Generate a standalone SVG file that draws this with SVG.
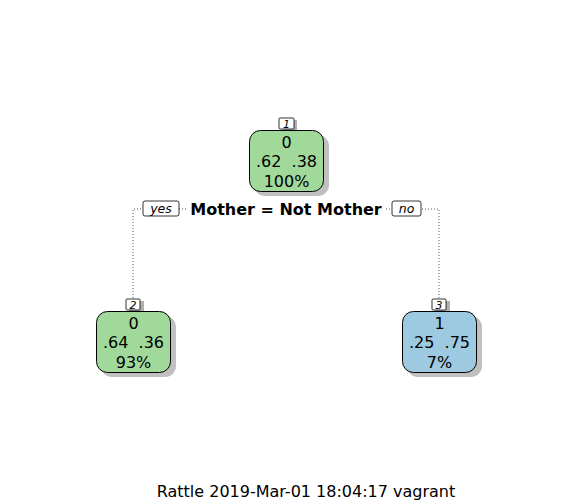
<svg xmlns="http://www.w3.org/2000/svg" width="573" height="503" viewBox="0 0 573 503">
<style>
text{font-family:"DejaVu Sans",sans-serif;fill:#000}
.nt{font-size:16px;text-anchor:middle}
.lab{font-size:11px;font-style:italic;text-anchor:middle}
.sh{fill:#c0c0c0}
.box{stroke:#000;stroke-width:1}
.g{fill:#a1d99b}
.b{fill:#9ecae1}
.tag{fill:#fff;stroke:#000;stroke-width:0.8}
.tsh{fill:#b0b0b0}
.con{fill:none;stroke:#555;stroke-width:1;stroke-dasharray:1,2}
</style>
<rect width="573" height="503" fill="#fff"/>
<g id="connectors">
<path class="con" d="M133,298 V209 H439 V298"/>
</g>
<g id="split">
<rect x="143" y="201" width="36" height="15" rx="2" fill="#fff" stroke="#000" stroke-width="0.8"/>
<text x="161" y="213" class="lab" style="font-size:12.5px">yes</text>
<rect x="188" y="200" width="196" height="18" fill="#fff"/>
<text x="286" y="215" style="font-size:16px;font-weight:bold;text-anchor:middle">Mother = Not Mother</text>
<rect x="392" y="201" width="29" height="15" rx="2" fill="#fff" stroke="#000" stroke-width="0.8"/>
<text x="406.5" y="213" class="lab" style="font-size:12.5px">no</text>
</g>
<g id="node1">
<rect x="282" y="120" width="15" height="11" class="tsh"/>
<rect x="279" y="118" width="15" height="11" rx="1" class="tag"/>
<text x="286.5" y="127.5" class="lab">1</text>
<rect x="254" y="135" width="75" height="61" rx="11" class="sh"/>
<rect x="249.5" y="130.5" width="74" height="61" rx="11" class="box g"/>
<text x="286.5" y="148" class="nt">0</text>
<text x="286.5" y="167" class="nt" xml:space="preserve">.62  .38</text>
<text x="286.5" y="187" class="nt">100%</text>
</g>
<g id="node2">
<rect x="129" y="301" width="15" height="11" class="tsh"/>
<rect x="126" y="299" width="14" height="11" rx="1" class="tag"/>
<text x="133" y="308.5" class="lab">2</text>
<rect x="101" y="316" width="75" height="61" rx="11" class="sh"/>
<rect x="96.5" y="311.5" width="74" height="61" rx="11" class="box g"/>
<text x="133.5" y="329" class="nt">0</text>
<text x="133.5" y="348" class="nt" xml:space="preserve">.64  .36</text>
<text x="133.5" y="368" class="nt">93%</text>
</g>
<g id="node3">
<rect x="435" y="301" width="15" height="11" class="tsh"/>
<rect x="432" y="299" width="14" height="11" rx="1" class="tag"/>
<text x="439" y="308.5" class="lab">3</text>
<rect x="407" y="316" width="75" height="61" rx="11" class="sh"/>
<rect x="402.5" y="311.5" width="74" height="61" rx="11" class="box b"/>
<text x="439.5" y="329" class="nt">1</text>
<text x="439.5" y="348" class="nt" xml:space="preserve">.25  .75</text>
<text x="439.5" y="368" class="nt">7%</text>
</g>
<text x="306" y="497" style="font-size:16px;text-anchor:middle">Rattle 2019-Mar-01 18:04:17 vagrant</text>
</svg>
